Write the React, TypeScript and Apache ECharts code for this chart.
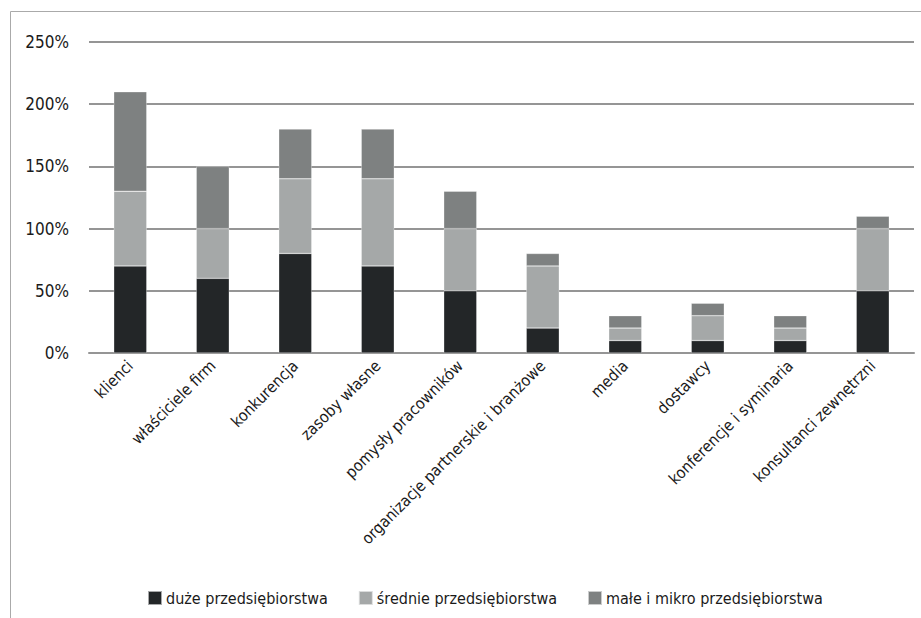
import React, { useEffect, useRef } from "react";
import * as echarts from "echarts";

const categories = [
  "klienci",
  "właściciele firm",
  "konkurencja",
  "zasoby własne",
  "pomysły pracowników",
  "organizacje partnerskie i branżowe",
  "media",
  "dostawcy",
  "konferencje i syminaria",
  "konsultanci zewnętrzni",
];
const seriesNames = ["duże przedsiębiorstwa", "średnie przedsiębiorstwa", "małe i mikro przedsiębiorstwa"];
const duze = [70, 60, 80, 70, 50, 20, 10, 10, 10, 50];
const srednie = [60, 40, 60, 70, 50, 50, 10, 20, 10, 50];
const male = [80, 50, 40, 40, 30, 10, 10, 10, 10, 10];
const colors = ["#232628", "#a5a8a8", "#7e8181"];

const FONT = "'DejaVu Sans Condensed', 'Liberation Sans Narrow', 'Open Sans', sans-serif";

export default function App() {
  const ref = useRef<HTMLDivElement>(null);
  useEffect(() => {
    if (!ref.current) return;
    const chart = echarts.init(ref.current, null, { renderer: "svg" });
    const data = [duze, srednie, male];
    chart.setOption({
      animation: false,
      backgroundColor: "#ffffff",
      grid: { left: 89, right: 7, top: 42, bottom: 265 },
      legend: {
        bottom: 7,
        left: 142,
        itemWidth: 14,
        itemHeight: 14,
        itemGap: 30,
        icon: "rect",
        textStyle: { fontFamily: FONT, fontSize: 16, color: "#1a1a1a", padding: [0, 0, 0, -1] },
        data: seriesNames,
      },
      xAxis: {
        type: "category",
        data: categories,
        axisLine: { show: true, lineStyle: { color: "#959595", width: 2 } },
        axisTick: { show: false },
        axisLabel: {
          rotate: 45,
          interval: 0,
          margin: 10,
          fontFamily: FONT,
          fontSize: 16,
          color: "#1a1a1a",
        },
      },
      yAxis: {
        type: "value",
        min: 0,
        max: 250,
        interval: 50,
        axisLine: { show: false },
        axisTick: { show: false },
        splitLine: { lineStyle: { color: "#959595", width: 2 } },
        axisLabel: {
          formatter: "{value}%",
          margin: 20,
          fontFamily: FONT,
          fontSize: 17,
          color: "#1a1a1a",
        },
      },
      series: seriesNames.map((name, i) => ({
        name,
        type: "bar",
        stack: "total",
        barWidth: "40%",
        data: data[i],
        itemStyle: { color: colors[i], borderColor: "rgba(255,255,255,0.6)", borderWidth: 0.5 },
      })),
      graphic: [
        { type: "line", shape: { x1: 10.5, y1: 11.5, x2: 10.5, y2: 618 }, style: { stroke: "#aaaaaa", lineWidth: 1 } },
        { type: "line", shape: { x1: 10.5, y1: 11.5, x2: 921, y2: 11.5 }, style: { stroke: "#aaaaaa", lineWidth: 1 } },
      ],
    });
    return () => chart.dispose();
  }, []);
  return <div ref={ref} style={{ position: "absolute", left: 0, top: 0, width: 921, height: 618 }} />;
}
